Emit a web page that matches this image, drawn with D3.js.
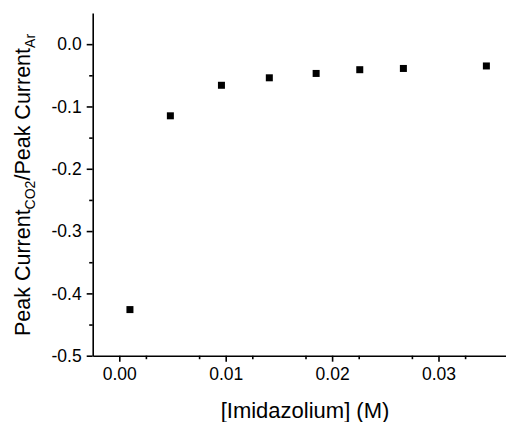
<!DOCTYPE html>
<html>
<head>
<meta charset="utf-8">
<script src="https://cdn.jsdelivr.net/npm/d3@7"></script>
<style>
  body { margin: 0; background: #fff; }
  svg { display: block; font-family: "Liberation Sans", Arial, sans-serif; }
</style>
</head>
<body>
<svg id="viz"></svg>
<script>
// ---------------------------
// Data
// ---------------------------

const concentration = [0.0010, 0.0048, 0.0096, 0.0141, 0.0185, 0.0226, 0.0267, 0.0345];
const ratio = [-0.426, -0.115, -0.066, -0.054, -0.047, -0.041, -0.039, -0.035];

const xTicks = [0, 0.01, 0.02, 0.03];
const yTicks = [0, -0.1, -0.2, -0.3, -0.4, -0.5];

// ---------------------------
// Create SVG
// ---------------------------

const width = 506;
const height = 422;

const svg = d3.select("#viz")
    .attr("width", width)
    .attr("height", height);

const x = d3.scaleLinear()
    .domain([-0.0025, 0.0375])
    .range([92.7, 518.3]);

const y = d3.scaleLinear()
    .domain([-0.5, 0.05])
    .range([355.7, 13]);

// minor ticks
const xMinor = d3.range(-0.0025, 0.0376, 0.005).map(v => +v.toFixed(4)).filter(v => v > -0.002);
const yMinor = d3.range(-0.45, 0.05, 0.1).map(v => +v.toFixed(2));

// plain hyphen minus like the original
const fmt = p => d => d3.format(p)(d).replace("\u2212", "-");

// ---------------------------
// Axes
// ---------------------------

svg.append("g")
    .attr("transform", `translate(0,${y(-0.5)})`)
    .call(d3.axisBottom(x)
        .tickValues(xTicks)
        .tickFormat(fmt(".2f"))
        .tickSize(6)
        .tickPadding(6)
        .tickSizeOuter(0));

svg.append("g")
    .attr("transform", `translate(0,${y(-0.5)})`)
    .call(d3.axisBottom(x)
        .tickValues(xMinor)
        .tickFormat("")
        .tickSize(3.5)
        .tickSizeOuter(0))
    .call(g => g.select(".domain").remove());

svg.append("g")
    .attr("transform", `translate(${x(-0.0025)},0)`)
    .call(d3.axisLeft(y)
        .tickValues(yTicks)
        .tickFormat(fmt(".1f"))
        .tickSize(6)
        .tickPadding(5)
        .tickSizeOuter(0));

svg.append("g")
    .attr("transform", `translate(${x(-0.0025)},0)`)
    .call(d3.axisLeft(y)
        .tickValues(yMinor)
        .tickFormat("")
        .tickSize(3.5)
        .tickSizeOuter(0))
    .call(g => g.select(".domain").remove());

svg.selectAll(".domain, .tick line")
    .attr("stroke", "#000")
    .attr("stroke-width", 1.6);

svg.selectAll(".tick text")
    .attr("fill", "#000")
    .attr("font-size", 17.5)
    .attr("font-family", "Liberation Sans, Arial, sans-serif");

// ---------------------------
// Points
// ---------------------------

const size = 7;

svg.append("g")
    .selectAll("rect")
    .data(concentration)
    .join("rect")
    .attr("x", (d, i) => x(d) - size / 2)
    .attr("y", (d, i) => y(ratio[i]) - size / 2)
    .attr("width", size)
    .attr("height", size)
    .attr("fill", "#000");

// ---------------------------
// Labels
// ---------------------------

svg.append("text")
    .attr("x", 305)
    .attr("y", 418)
    .attr("text-anchor", "middle")
    .attr("font-size", 22)
    .attr("fill", "#000")
    .text("[Imidazolium] (M)");

const yTitle = svg.append("text")
    .attr("transform", `translate(30,185) rotate(-90)`)
    .attr("text-anchor", "middle")
    .attr("font-size", 21.5)
    .attr("fill", "#000");

yTitle.append("tspan").text("Peak Current");
yTitle.append("tspan").attr("dy", 5).attr("font-size", 14).text("CO2");
yTitle.append("tspan").attr("dy", -5).text("/Peak Current");
yTitle.append("tspan").attr("dy", 5).attr("font-size", 14).text("Ar");
</script>
</body>
</html>
